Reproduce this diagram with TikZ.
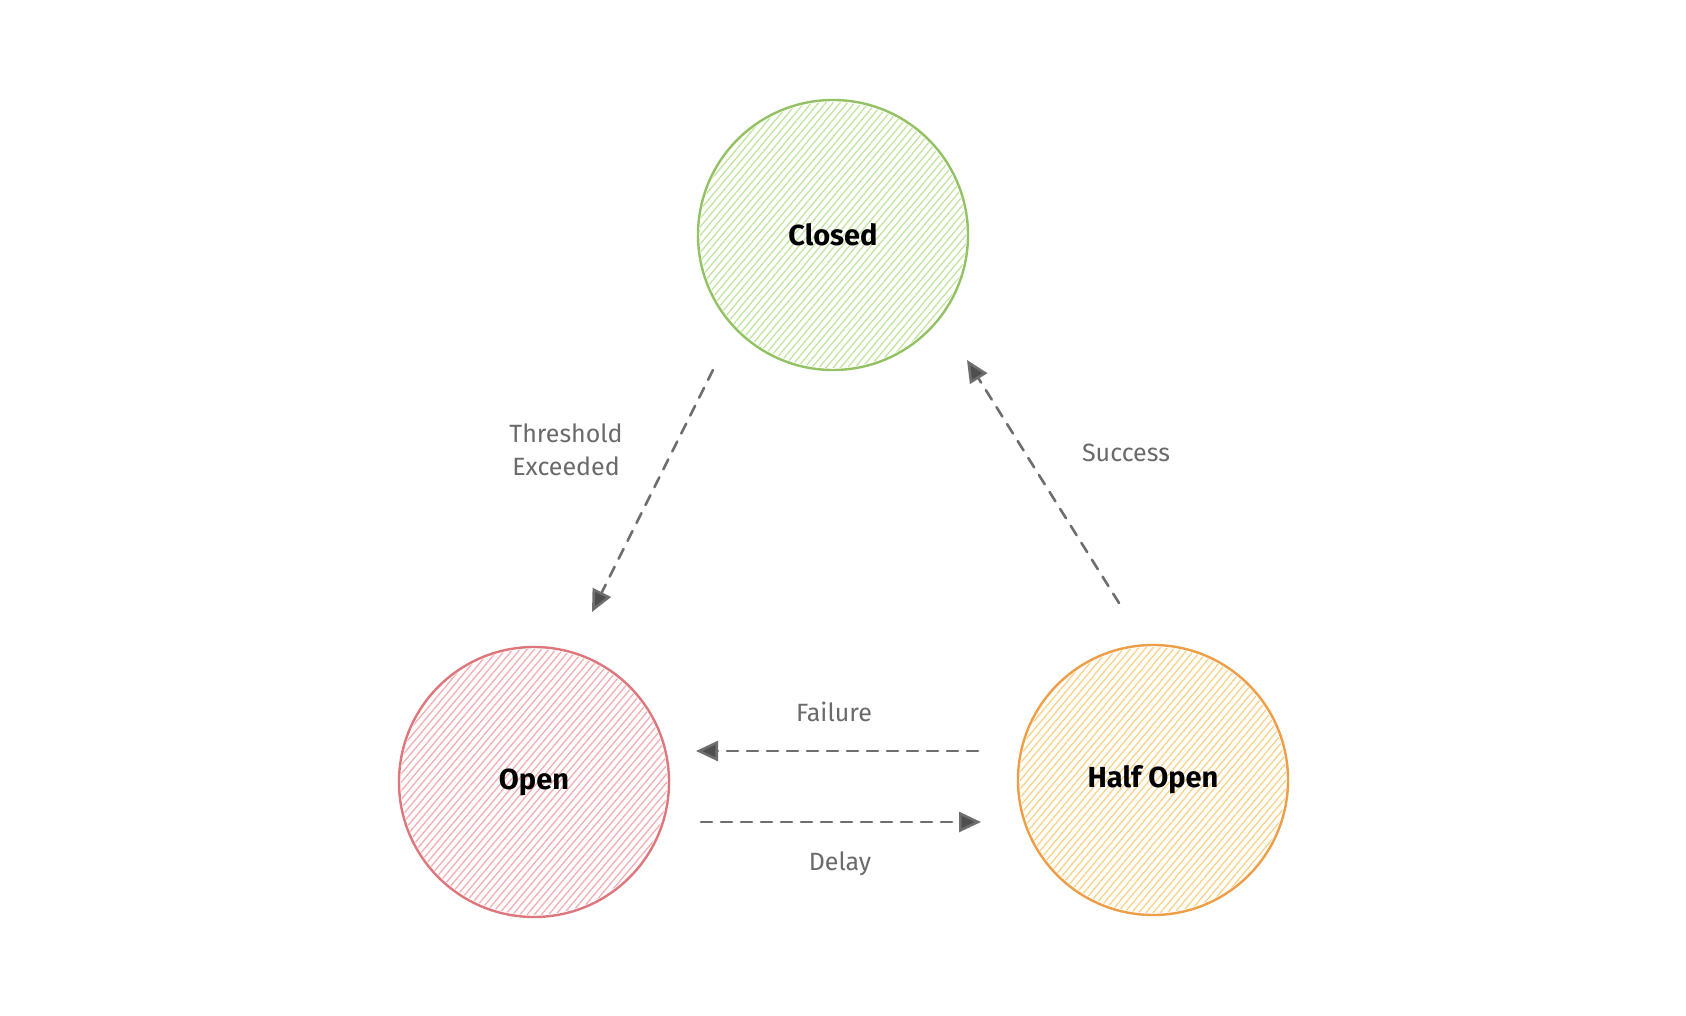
\documentclass[tikz,border=0pt]{standalone}
\usepackage{fontspec}
\setmainfont{Fira Sans}
\usetikzlibrary{arrows.meta,calc,backgrounds}
\definecolor{gstroke}{HTML}{92C263}
\definecolor{ghatch}{HTML}{C4E5A2}
\definecolor{rstroke}{HTML}{DE777C}
\definecolor{rhatch}{HTML}{F5AFB3}
\definecolor{ostroke}{HTML}{EE9E46}
\definecolor{ohatch}{HTML}{FAD28A}
\definecolor{edgecol}{HTML}{6E6E6E}
\definecolor{tipcol}{HTML}{4E4E4E}
\definecolor{labcol}{HTML}{6A6A6A}
\tikzset{
  statenode/.style={circle, minimum size=270pt, inner sep=0pt, outer sep=0pt,
    line width=2.4pt, font=\fontsize{29}{34}\selectfont\bfseries, text=black},
  greenstate/.style={statenode, draw=gstroke},
  redstate/.style={statenode, draw=rstroke},
  orangestate/.style={statenode, draw=ostroke},
  hatchline/.style={line width=1.3pt},
  flow/.style={draw=edgecol, line width=2.6pt, dash pattern=on 11pt off 9pt,
    -{Triangle[length=22pt,width=20pt,fill=tipcol]}, line cap=round},
  edgelabel/.style={text=labcol, font=\fontsize{25}{33}\selectfont, align=center}
}
\newcommand{\hatchcircle}[2]{%
  \begin{scope}
    \clip (#1.center) circle (133pt);
    \foreach \i in {-140,-134.5,...,140} {
      \draw[hatchline, draw=#2]
        ($(#1.center)+({\i*sin(50)},{\i*cos(50)})+({-150*cos(50)},{150*sin(50)})$) --
        ($(#1.center)+({\i*sin(50)},{\i*cos(50)})+({150*cos(50)},{-150*sin(50)})$);
    }
  \end{scope}}
\begin{document}
\begin{tikzpicture}[x=1pt,y=-1pt]
\useasboundingbox (0,0) rectangle (1686,1016);

\node[greenstate] (closed) at (833,235) {Closed};
\node[redstate] (open) at (534,782) {Open};
\node[orangestate] (half) at (1153,780) {Half Open};

\begin{scope}[on background layer]
  \fill[white] (0,0) rectangle (1686,1016);
  \hatchcircle{closed}{ghatch}
  \hatchcircle{open}{rhatch}
  \hatchcircle{half}{ohatch}
\end{scope}

\coordinate (te1) at ([shift={(-120,135)}]closed.center);
\coordinate (te2) at ([shift={(58,-170)}]open.center);
\coordinate (su1) at ([shift={(-34,-177)}]half.center);
\coordinate (su2) at ([shift={(134,125)}]closed.center);
\coordinate (fa1) at ([shift={(-175,-29)}]half.center);
\coordinate (fa2) at ([shift={(162,-31)}]open.center);
\coordinate (de1) at ([shift={(167,40)}]open.center);
\coordinate (de2) at ([shift={(-172,42)}]half.center);

\draw[flow] (te1) -- (te2);
\draw[flow] (su1) -- (su2);
\draw[flow] (fa1) -- (fa2);
\draw[flow] (de1) -- (de2);

\node[edgelabel] (lth) at (566,450) {Threshold\\Exceeded};
\node[edgelabel] (lsu) at (1126,453) {Success};
\node[edgelabel] (lfa) at (834,712) {Failure};
\node[edgelabel] (lde) at (840,864) {Delay};
\end{tikzpicture}
\end{document}
